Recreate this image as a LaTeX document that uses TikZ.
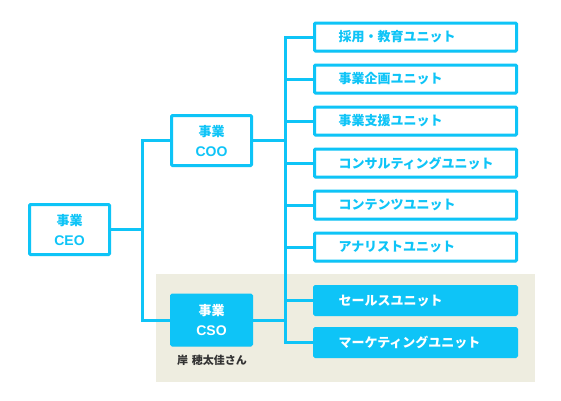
\documentclass[tikz,border=0pt]{standalone}
\usepackage{fontspec}
\setmainfont{Noto Sans CJK JP}
\newfontfamily\latinfont{Liberation Sans}
\usepackage{xcolor}
\usetikzlibrary{positioning,shadows}
\definecolor{orgblue}{HTML}{0EC4F7}
\definecolor{areabeige}{HTML}{EEEDE0}
\definecolor{namegray}{HTML}{333333}

\begin{document}
\begin{tikzpicture}[x=1pt,y=-1pt,node distance=11pt,
  every node/.style={font=\bfseries\fontsize{13}{20}\selectfont},
  boxshadow/.style={drop shadow={opacity=0.12,shadow xshift=1pt,shadow yshift=-1.5pt}},
  role/.style={draw=orgblue,line width=3pt,fill=white,rounded corners=1pt,boxshadow,minimum width=80pt,minimum height=50pt,inner sep=0pt,align=center,text=orgblue},
  rolefill/.style={role,fill=orgblue,text=white},
  unit/.style={draw=orgblue,line width=3pt,fill=white,rounded corners=1pt,boxshadow,minimum height=28pt,text width=154pt,inner xsep=24pt,inner ysep=0pt,align=left,text=orgblue},
  unitfill/.style={unit,fill=orgblue,text=white},
  link/.style={draw=orgblue,line width=3pt}]
\useasboundingbox (0,0) rectangle (561,400);
% sales area
\fill[areabeige] (156,274) rectangle (535,382);

% roles
\node[role] (ceo) at (69.5,229.5) {事業\\{\latinfont\fontsize{14}{20}\selectfont CEO}};
\node[role] (coo) at (211.5,140.5) {事業\\{\latinfont\fontsize{14}{20}\selectfont COO}};
\node[rolefill] (cso) at (211.5,320) {事業\\{\latinfont\fontsize{14}{20}\selectfont CSO}};
\node[font=\bfseries\fontsize{11}{12}\selectfont,text=namegray,inner sep=0pt] (csoname) at (212,360) {岸\,\,穂太佳さん};

% units
\node[unit] (u1) at (415.5,37) {採用・教育ユニット};
\node[unit,below=of u1] (u2) {事業企画ユニット};
\node[unit,below=of u2] (u3) {事業支援ユニット};
\node[unit,below=of u3] (u4) {コンサルティングユニット};
\node[unit,below=of u4] (u5) {コンテンツユニット};
\node[unit,below=of u5] (u6) {アナリストユニット};
\node[unitfill] (u7) at (415.5,300.5) {セールスユニット};
\node[unitfill,below=of u7] (u8) {マーケティングユニット};

% connectors
\coordinate (busA) at (142,229.5);
\coordinate (busB) at (285,230);
\draw[link] (ceo.east) -- (busA);
\draw[link] (coo.west) -| (busA) |- (cso.west);
\draw[link] (coo.east) -- (coo.east -| busB);
\draw[link] (cso.east) -- (cso.east -| busB);
\foreach \u in {u1,u2,u3,u4,u5,u6,u7,u8}
  \draw[link] (\u.west) -| (busB);
\end{tikzpicture}
\end{document}
